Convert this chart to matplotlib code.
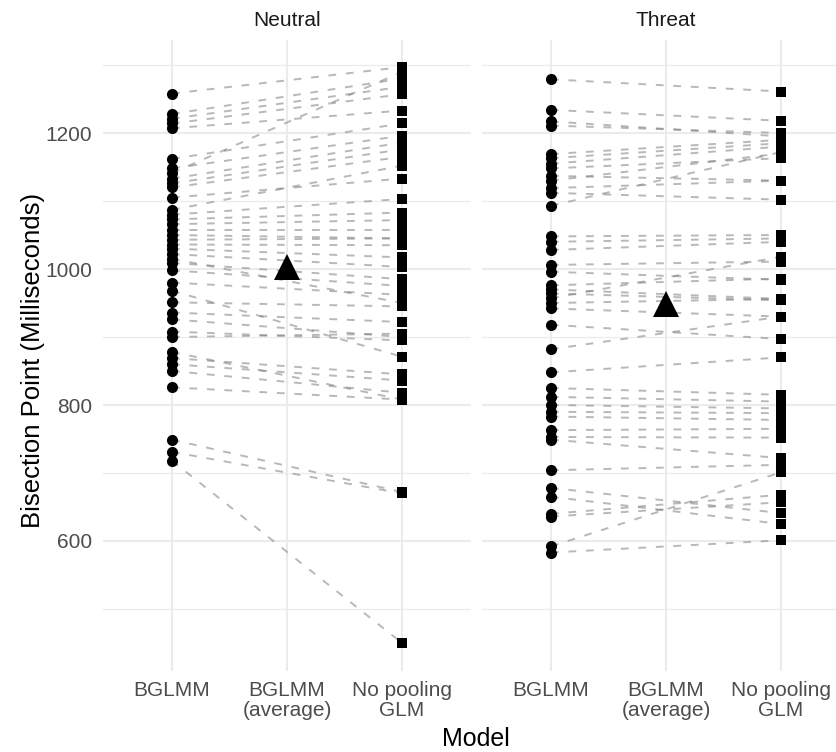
import matplotlib
matplotlib.use('Agg')
import matplotlib.pyplot as plt

plt.rcParams['font.family'] = ['Liberation Sans', 'DejaVu Sans']

# model categories on the x axis
models = ['BGLMM', 'BGLMM\n(average)', 'No pooling\nGLM']
panels = ['Neutral', 'Threat']

# per-subject bisection points (ms), same order in both lists
neutral_bglmm = [1258, 1228, 1221, 1214, 1207, 1162, 1148, 1141, 1133, 1126,
                 1120, 1105, 1087, 1080, 1073, 1066, 1058, 1050, 1043, 1036,
                 1030, 1022, 1015, 1009, 998, 980, 968, 951, 936, 926,
                 908, 900, 878, 869, 860, 850, 826, 749, 731, 718]
neutral_glm = [1297, 1280, 1268, 1257, 1233, 1214, 1196, 1290, 1186, 1176,
               1165, 1133, 1152, 1103, 1083, 1072, 1058, 1045, 1045, 1035,
               1017, 1003, 950, 985, 975, 962, 871, 945, 922, 900,
               895, 905, 808, 845, 836, 818, 808, 672, 670, 450]

threat_bglmm = [1279, 1234, 1217, 1211, 1169, 1163, 1155, 1148, 1137, 1130,
                1119, 1112, 1093, 1048, 1040, 1028, 1006, 996, 976, 970,
                964, 957, 950, 942, 918, 882, 848, 825, 812, 800,
                790, 783, 763, 753, 749, 704, 678, 665, 640, 636, 592, 583]
threat_glm = [1261, 1218, 1195, 1200, 1190, 1185, 1180, 1163, 1130, 1170,
              1130, 1102, 1172, 1050, 1045, 1040, 1011, 984, 986, 956,
              954, 1018, 956, 930, 897, 930, 870, 815, 805, 795,
              788, 778, 765, 752, 722, 712, 641, 625, 668, 657, 701, 601]

# group average of the BGLMM estimates
averages = [1003, 948]

data = {'Neutral': (neutral_bglmm, neutral_glm, averages[0]),
        'Threat': (threat_bglmm, threat_glm, averages[1])}

W, H = 836, 752
fig = plt.figure(figsize=(W / 100, H / 100), dpi=100)
fig.patch.set_facecolor('white')

panel_left = [103, 482]
panel_w = 368
panel_top, panel_bot = 40, 671
ylim = (408.8, 1336.8)
grid_col = '#EBEBEB'

for i, name in enumerate(panels):
    bg, glm, avg = data[name]
    ax = fig.add_axes([panel_left[i] / W, 1 - panel_bot / H,
                       panel_w / W, (panel_bot - panel_top) / H])
    ax.set_facecolor('white')
    for s in ax.spines.values():
        s.set_visible(False)

    for a, b in zip(bg, glm):
        ax.plot([0, 2], [a, b], color='#7F7F7F', alpha=0.55, lw=1.4,
                dashes=(4, 5), zorder=2)
    ax.plot([0] * len(bg), bg, 'o', color='black', ms=8, mew=0, zorder=3)
    ax.plot([2] * len(glm), glm, 's', color='black', ms=7.8, mew=0, zorder=3)
    ax.plot([1], [avg], '^', color='black', ms=18.5, mew=0, zorder=4)

    ax.set_xlim(-0.6, 2.6)
    ax.set_ylim(*ylim)
    ax.set_xticks([0, 1, 2])
    ax.set_xticklabels(models, fontsize=15, color='#4D4D4D', linespacing=1.1)
    ax.set_yticks([600, 800, 1000, 1200])
    ax.set_yticks([500, 700, 900, 1100, 1300], minor=True)
    ax.grid(True, which='major', color=grid_col, lw=1.5, zorder=0)
    ax.grid(True, which='minor', axis='y', color=grid_col, lw=0.9, zorder=0)
    ax.tick_params(which='both', length=0)
    ax.tick_params(axis='x', pad=7)
    ax.tick_params(axis='y', pad=8, labelsize=15, labelcolor='#4D4D4D')
    if i > 0:
        ax.tick_params(axis='y', labelleft=False)
    ax.set_axisbelow(True)

    ax.text(0.5, 1 + 20 / (panel_bot - panel_top), name, transform=ax.transAxes,
            ha='center', va='center', fontsize=15, color='#1A1A1A')

fig.text(476 / W, 1 - 739 / H, 'Model', ha='center', va='center', fontsize=18)
fig.text(33 / W, 1 - 360 / H, 'Bisection Point (Milliseconds)', ha='center',
         va='center', rotation=90, fontsize=18.5)

fig.savefig('out.png', dpi=100, facecolor='white')
